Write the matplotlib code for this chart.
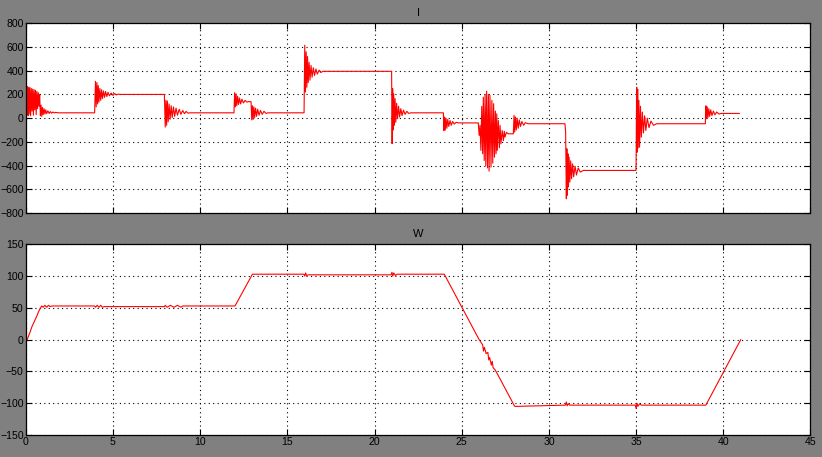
import matplotlib
matplotlib.use("Agg")
import matplotlib.pyplot as plt

# current I: breakpoints (time s, value)
i_time = [0.00, 0.02, 0.05, 0.08, 0.11, 0.14, 0.17, 0.20, 0.24, 0.28, 0.32, 0.36, 0.40, 0.44,
          0.48, 0.52, 0.56, 0.60, 0.64, 0.68, 0.72, 0.76, 0.80, 0.84, 0.88, 0.92, 0.96, 1.00,
          1.05, 1.10, 1.15, 1.20, 1.27, 1.34, 1.41, 1.48, 1.56, 1.64, 1.72, 1.80, 1.90,
          3.95, 4.00, 4.04, 4.08, 4.12, 4.16, 4.20, 4.25, 4.30, 4.35, 4.40, 4.46, 4.52, 4.58,
          4.65, 4.72, 4.80, 4.90, 5.00, 5.10, 5.20, 5.30, 5.40,
          7.95, 8.00, 8.04, 8.08, 8.12, 8.17, 8.22, 8.28, 8.34, 8.40, 8.47, 8.54, 8.62, 8.70,
          8.80, 8.90, 9.00, 9.10, 9.20, 9.30, 9.40,
          11.94, 11.98, 12.02, 12.06, 12.10, 12.15, 12.20, 12.26, 12.32, 12.40, 12.48, 12.58,
          12.68, 12.80, 12.92, 12.96, 13.00, 13.04, 13.08, 13.13, 13.18, 13.24, 13.30, 13.38,
          13.46, 13.56, 13.66, 13.78, 13.90,
          15.96, 16.00, 16.04, 16.08, 16.12, 16.16, 16.20, 16.25, 16.30, 16.36, 16.42, 16.49,
          16.56, 16.64, 16.72, 16.82, 16.92, 17.05,
          20.98, 21.01, 21.04, 21.07, 21.10, 21.14, 21.18, 21.22, 21.27, 21.32, 21.38, 21.44,
          21.51, 21.58, 21.66, 21.75, 21.85, 21.96, 22.10,
          23.95, 23.98, 24.02, 24.06, 24.10, 24.15, 24.20, 24.26, 24.33, 24.40, 24.48, 24.57,
          24.68, 24.80,
          25.95, 26.00, 26.05, 26.10, 26.15, 26.20, 26.24, 26.29, 26.34, 26.38, 26.43, 26.48,
          26.53, 26.57, 26.62, 26.68, 26.73, 26.78, 26.83, 26.88, 26.93, 26.97, 27.01, 27.04,
          27.10, 27.16, 27.20, 27.25, 27.32, 27.39, 27.44, 27.48, 27.56, 27.67, 27.96,
          28.00, 28.04, 28.08, 28.13, 28.18, 28.24, 28.30, 28.37, 28.45, 28.55, 28.65, 28.80,
          30.92, 30.96, 31.00, 31.03, 31.06, 31.09, 31.12, 31.16, 31.20, 31.25, 31.30, 31.36,
          31.42, 31.50, 31.58, 31.68, 31.80, 31.97,
          34.99, 35.00, 35.03, 35.06, 35.09, 35.12, 35.16, 35.20, 35.25, 35.30, 35.36, 35.42,
          35.49, 35.56, 35.64, 35.74, 35.85, 36.00, 36.18,
          38.97, 39.00, 39.04, 39.08, 39.12, 39.17, 39.22, 39.28, 39.35, 39.43, 39.52, 39.62,
          39.75, 39.90, 40.92]
i_value = [0, 200, 265, 30, 265, 20, 255, 35, 260, 20, 250, 60, 245, 25,
           240, 70, 235, 30, 225, 80, 215, 100, 200, 20, 110, 15, 90, 30,
           80, 35, 70, 38, 62, 40, 56, 42, 52, 44, 49, 46, 45,
           45, 310, 95, 300, 120, 275, 135, 250, 150, 240, 165, 230, 175, 225,
           182, 218, 188, 212, 192, 207, 196, 203, 200,
           200, -75, 150, -60, 145, -30, 120, -10, 105, 5, 95, 15, 85, 25,
           75, 32, 65, 38, 57, 42, 45,
           45, 215, 95, 205, 105, 185, 115, 170, 120, 160, 128, 150,
           135, 140, 138, -15, 105, -10, 95, 5, 85, 15, 75, 25,
           65, 32, 58, 40, 45,
           45, 615, 220, 560, 260, 520, 300, 470, 320, 445, 345, 425,
           360, 415, 372, 405, 385, 395,
           395, -215, 250, -100, 205, -60, 165, -35, 125, -5, 100, 10,
           80, 22, 68, 32, 58, 40, 45,
           45, -105, 10, -100, 0, -85, -10, -70, -20, -60, -28, -50,
           -35, -40,
           -40, -146, -60, -272, 100, -300, 177, -357, 200, -400, 228, -420,
           200, -447, 192, -413, 150, -380, 122, -329, 60, -300, 37, -272,
           -20, -250, -62, -216, -104, -190, -110, -160, -120, -132, -132,
           23, -118, 10, -100, 0, -85, -15, -70, -28, -60, -38, -47,
           -47, -120, -680, -258, -650, -300, -580, -330, -540, -360, -510, -385,
           -495, -405, -480, -420, -455, -441,
           -441, -385, 262, -287, 245, -250, 150, -245, 100, -160, 51, -125,
           20, -104, 0, -80, -25, -60, -47,
           -47, 104, -5, 95, 5, 80, 15, 70, 22, 60, 28, 52,
           35, 40, 40]

# speed W
w_time = [0.00, 0.08, 0.15, 0.25, 0.35, 0.45, 0.55, 0.65, 0.75, 0.85, 0.92, 1.00, 1.10, 1.20,
          1.30, 1.40, 1.50, 3.95, 4.00, 4.10, 4.20, 4.30, 4.40, 4.50, 7.95, 8.00, 8.10, 8.30,
          8.50, 8.70, 8.90, 9.00, 12.00, 13.00, 15.95, 16.00, 16.05, 16.10, 16.20, 20.95,
          21.00, 21.05, 21.10, 21.20, 21.30, 24.00, 25.00, 26.00, 26.20, 26.25, 26.30, 26.40,
          26.50, 26.55, 26.60, 26.70, 26.75, 26.80, 26.90, 27.00, 28.00, 28.05, 30.95, 31.00,
          31.05, 31.10, 31.20, 34.95, 35.00, 35.05, 35.10, 35.20, 35.30, 39.00, 41.00]
w_value = [-3, 0, 5, 12, 20, 26, 32, 38, 45, 50, 53, 51, 54, 51,
           54, 52, 53, 53, 51, 54, 51, 54, 51, 52, 52, 54, 51, 54,
           51, 54, 51, 53, 53, 103, 103, 100, 105, 101, 102, 102,
           106, 100, 105, 101, 103, 103, 51.5, 0, -8, -18, -12, -22,
           -20, -32, -28, -40, -34, -44, -47, -51.5, -103, -105, -103, -98,
           -104, -101, -103, -103, -108, -100, -105, -101, -103, -103, 0]

x_ticks = [0, 5, 10, 15, 20, 25, 30, 35, 40, 45]
i_ticks = [-800, -600, -400, -200, 0, 200, 400, 600, 800]
w_ticks = [-150, -100, -50, 0, 50, 100, 150]


def style_axes(ax, yticks, title, show_xlabels):
    ax.set_facecolor("white")
    ax.set_xlim(0, 45)
    ax.set_ylim(yticks[0], yticks[-1])
    ax.set_xticks(x_ticks)
    ax.set_yticks(yticks)
    if not show_xlabels:
        ax.set_xticklabels([])
    ax.grid(True, color="black", linestyle=(0, (1, 3)), linewidth=0.8)
    ax.tick_params(direction="in", top=True, right=True, length=4, width=0.8,
                   labelsize=7.6, colors="black", pad=1.5)
    for sp in ax.spines.values():
        sp.set_color("black")
        sp.set_linewidth(0.9)
    ax.set_title(title, fontsize=8, color="black", pad=5)


def main():
    plt.rcParams["font.family"] = ["Liberation Sans", "DejaVu Sans"]
    fig = plt.figure(figsize=(8.22, 4.57), dpi=100, facecolor="#808080")

    ax1 = fig.add_axes([0.0313, 0.5339, 0.9547, 0.4151])
    ax1.plot(i_time, i_value, color="red", linewidth=0.8)
    style_axes(ax1, i_ticks, "I", False)

    ax2 = fig.add_axes([0.0313, 0.0481, 0.9547, 0.4173])
    ax2.plot(w_time, w_value, color="red", linewidth=0.8)
    style_axes(ax2, w_ticks, "W", True)

    fig.savefig("out.png", dpi=100, facecolor=fig.get_facecolor())


if __name__ == "__main__":
    main()
